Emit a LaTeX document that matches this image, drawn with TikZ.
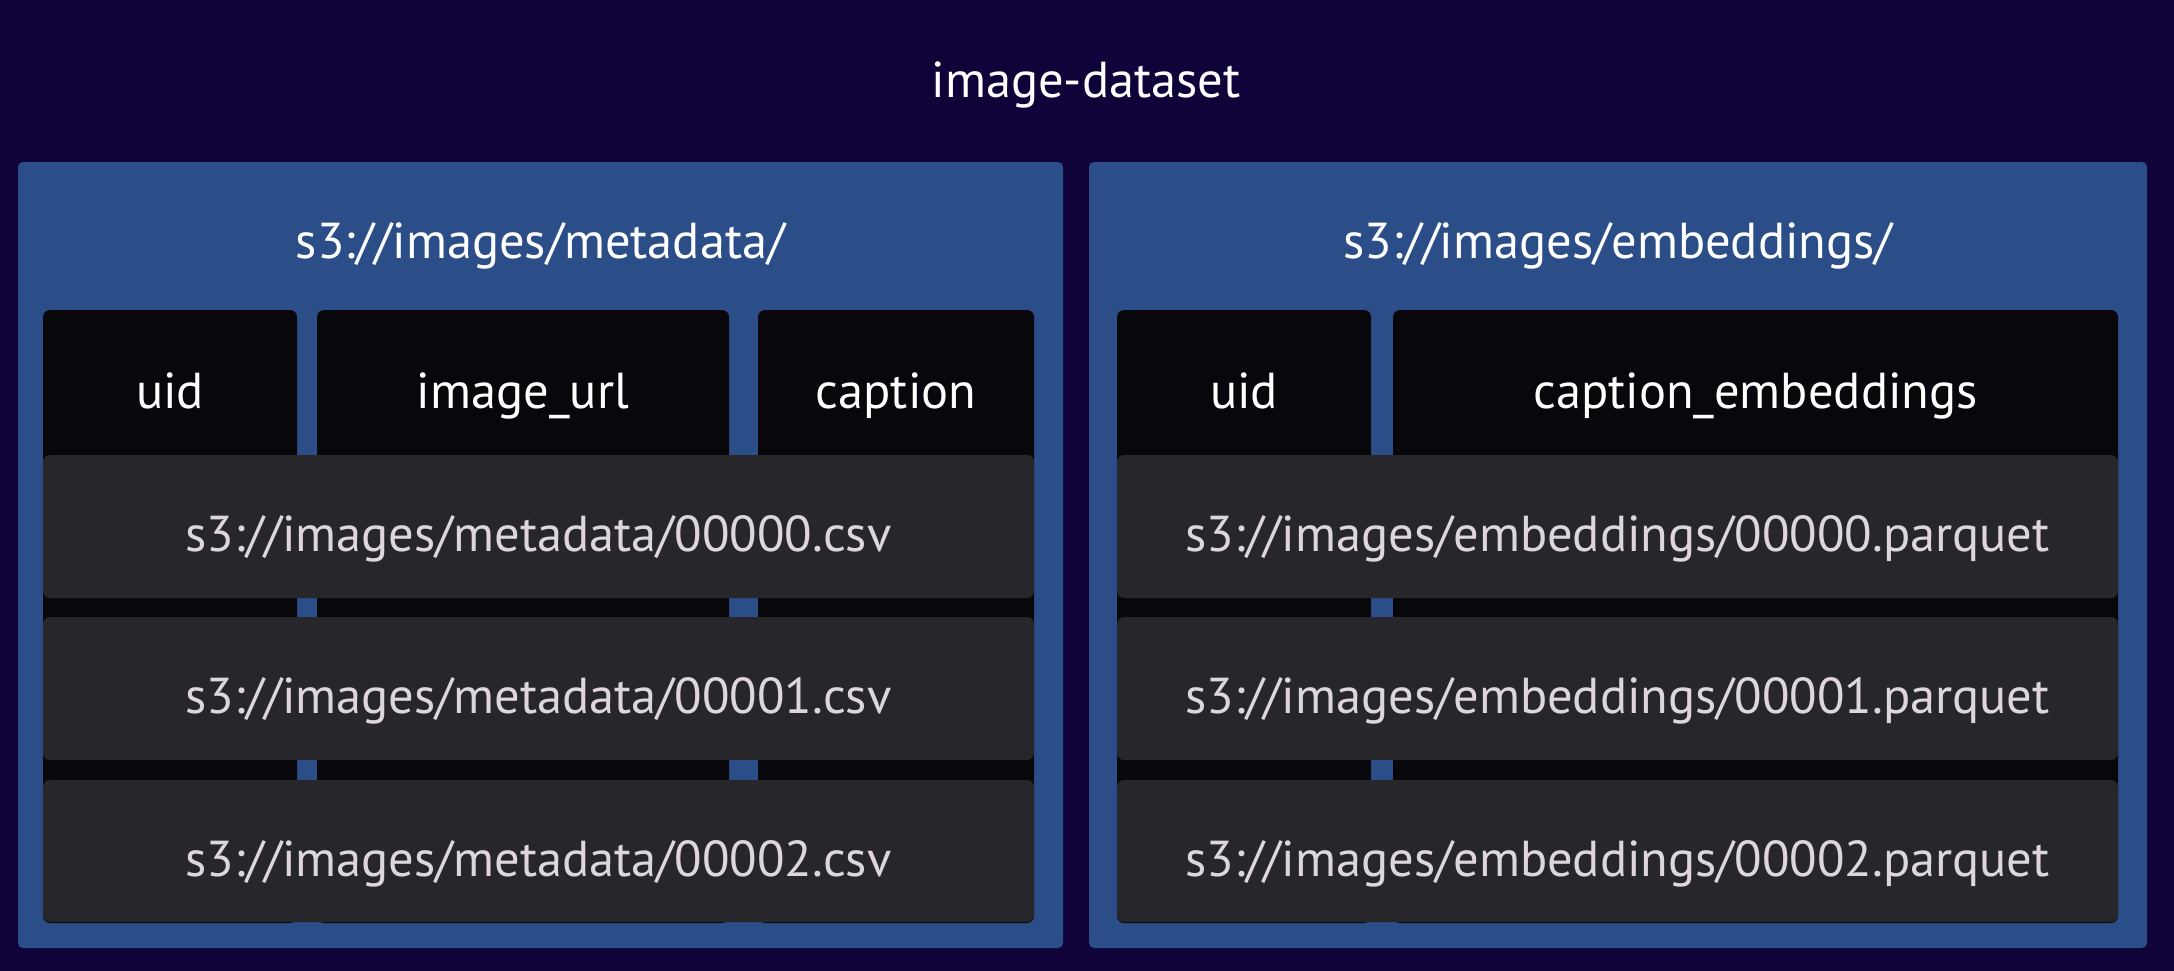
\documentclass[tikz,border=0pt]{standalone}
\usepackage{fontspec}
\setmainfont{PT Sans}
\definecolor{bgc}{HTML}{10033A}
\definecolor{panelc}{HTML}{2C4E88}
\definecolor{colc}{HTML}{08080C}
\definecolor{rowc}{HTML}{27272B}
\definecolor{filetxt}{HTML}{DDD6DD}
\begin{document}
\begin{tikzpicture}[x=1pt,y=-1pt,
  panel/.style={fill=panelc,rounded corners=5pt},
  colbox/.style={fill=colc,rounded corners=7pt},
  rowbox/.style={fill=rowc,rounded corners=7pt},
  lbl/.style={anchor=base,inner sep=0pt,text=white,font=\fontsize{50.5}{58}\selectfont},
  flbl/.style={lbl,text=filetxt}]
\useasboundingbox (0,0) rectangle (2174,970);
\fill[bgc] (-3,-3) rectangle (2177,973);
\node[lbl] (title) at (1086,97) {image-dataset};
% left panel
\fill[panel] (18,162) rectangle (1063,948);
\node[lbl] (lt) at (540.5,258) {s3://images/metadata/};
\fill[colbox] (43,310) rectangle (297,923);
\fill[colbox] (317,310) rectangle (729,923);
\fill[colbox] (758,310) rectangle (1034,923);
\node[lbl] (luid) at (170,408) {uid};
\node[lbl] (lurl) at (523,408) {image\_url};
\node[lbl] (lcap) at (896,408) {caption};
\fill[rowbox] (43,455) rectangle (1034,598);
\fill[rowbox] (43,617) rectangle (1034,760);
\fill[rowbox] (43,780) rectangle (1034,922);
\node[flbl] (lf0) at (538.5,551) {s3://images/metadata/00000.csv};
\node[flbl] (lf1) at (538.5,713) {s3://images/metadata/00001.csv};
\node[flbl] (lf2) at (538.5,876) {s3://images/metadata/00002.csv};
% right panel
\fill[panel] (1089,162) rectangle (2147,948);
\node[lbl] (rt) at (1618,258) {s3://images/embeddings/};
\fill[colbox] (1117,310) rectangle (1371,923);
\fill[colbox] (1393,310) rectangle (2118,923);
\node[lbl] (ruid) at (1244,408) {uid};
\node[lbl] (remb) at (1755.5,408) {caption\_embeddings};
\fill[rowbox] (1117,455) rectangle (2118,598);
\fill[rowbox] (1117,617) rectangle (2118,760);
\fill[rowbox] (1117,780) rectangle (2118,922);
\node[flbl] (rf0) at (1617.5,551) {s3://images/embeddings/00000.parquet};
\node[flbl] (rf1) at (1617.5,713) {s3://images/embeddings/00001.parquet};
\node[flbl] (rf2) at (1617.5,876) {s3://images/embeddings/00002.parquet};
\end{tikzpicture}
\end{document}
